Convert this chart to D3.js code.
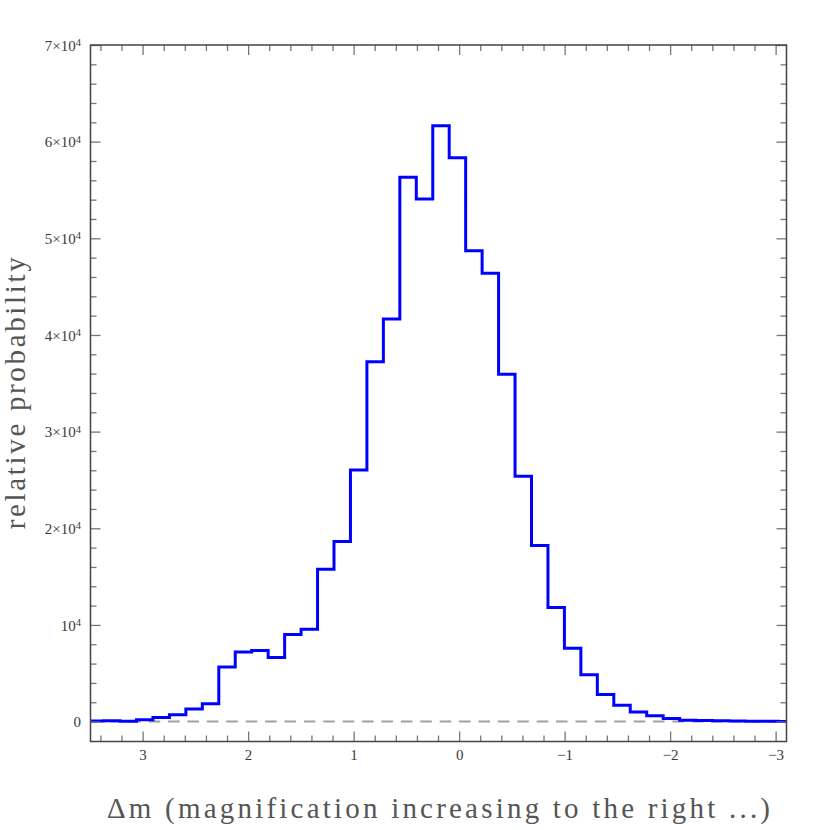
<!DOCTYPE html>
<html>
<head>
<meta charset="utf-8">
<script src="https://cdn.jsdelivr.net/npm/d3@7"></script>
<style>
html,body{margin:0;padding:0;background:#fff;}
svg{display:block;}
</style>
</head>
<body>
<svg id="chart" width="830" height="830"></svg>
<script>
// ---- data ----
const binStart = 3.058;      // upper (left-most) edge of bin index 0, in Δm
const binWidth = 0.156;      // bin width in Δm
const firstBinIndex = -3;
const counts = [60, 80, 30, 190, 420, 700, 1290, 1840, 5640, 7190, 7360, 6630, 9010, 9560,
  15770, 18620, 26040, 37240, 41650, 56310, 54060, 61640, 58330, 48720, 46380, 35940,
  25390, 18210, 11800, 7600, 4840, 2800, 1700, 980, 600, 320, 150, 100, 80, 60, 40, 30, 20];
const xDomain = [3.494, -3.103];
const yDomain = [-2060, 70000];
const xMajorTicks = [3, 2, 1, 0, -1, -2, -3];
const xMinorTicks = [3.4, 3.2, 2.8, 2.6, 2.4, 2.2, 1.8, 1.6, 1.4, 1.2, 0.8, 0.6, 0.4, 0.2,
  -0.2, -0.4, -0.6, -0.8, -1.2, -1.4, -1.6, -1.8, -2.2, -2.4, -2.6, -2.8];
const yMajorTicks = [0, 10000, 20000, 30000, 40000, 50000, 60000, 70000];
const yMinorTicks = [2000, 4000, 6000, 8000, 12000, 14000, 16000, 18000, 22000, 24000, 26000, 28000,
  32000, 34000, 36000, 38000, 42000, 44000, 46000, 48000, 52000, 54000, 56000, 58000,
  62000, 64000, 66000, 68000];
const xTitle = "Δm (magnification increasing to the right ...)";
const yTitle = "relative probability";

// ---- layout ----
const L = 90.5, R = 786.5, T = 45, B = 741.5;
const svg = d3.select("#chart");
const x = d3.scaleLinear().domain(xDomain).range([L, R]);
const y = d3.scaleLinear().domain(yDomain).range([B, T]);
const font = "'Liberation Serif', 'DejaVu Serif', serif";

svg.append("defs").append("clipPath").attr("id", "clip")
  .append("rect").attr("x", L).attr("y", T).attr("width", R - L).attr("height", B - T);

// zero dashed line
svg.append("line")
  .attr("x1", L).attr("x2", R).attr("y1", y(0)).attr("y2", y(0))
  .attr("stroke", "#a0a0a0").attr("stroke-width", 2)
  .attr("stroke-dasharray", "11.5,7.9");

// histogram step
const pts = counts.map((c, i) => [binStart - binWidth * (i + firstBinIndex), c]);
pts.push([binStart - binWidth * (counts.length + firstBinIndex), counts[counts.length - 1]]);
const line = d3.line().x(d => x(d[0])).y(d => y(d[1])).curve(d3.curveStepAfter);
svg.append("path")
  .attr("clip-path", "url(#clip)")
  .attr("d", line(pts))
  .attr("fill", "none").attr("stroke", "#0000ff")
  .attr("stroke-width", 3).attr("stroke-linejoin", "miter");

// ticks
function styleAxis(g) {
  g.select(".domain").remove();
  g.selectAll(".tick line").attr("stroke", "#777").attr("stroke-width", 1.3);
  g.selectAll(".tick text").attr("font-family", font).attr("font-size", 15).attr("fill", "#3a3a3a");
}
const fmtX = d => d < 0 ? "\u2212" + Math.abs(d) : String(d);
svg.append("g").attr("transform", `translate(0,${B})`)
  .call(d3.axisBottom(x).tickValues(xMajorTicks).tickSizeInner(-10).tickSizeOuter(0)
    .tickPadding(8).tickFormat(fmtX))
  .call(styleAxis);
svg.append("g").attr("transform", `translate(0,${B})`)
  .call(d3.axisBottom(x).tickValues(xMinorTicks).tickSizeInner(-6).tickSizeOuter(0).tickFormat(""))
  .call(styleAxis);
svg.append("g").attr("transform", `translate(0,${T})`)
  .call(d3.axisTop(x).tickValues(xMajorTicks).tickSizeInner(-10).tickSizeOuter(0).tickFormat(""))
  .call(styleAxis);
svg.append("g").attr("transform", `translate(0,${T})`)
  .call(d3.axisTop(x).tickValues(xMinorTicks).tickSizeInner(-6).tickSizeOuter(0).tickFormat(""))
  .call(styleAxis);

const yLeft = svg.append("g").attr("transform", `translate(${L},0)`)
  .call(d3.axisLeft(y).tickValues(yMajorTicks).tickSizeInner(-10).tickSizeOuter(0).tickFormat(""))
  .call(styleAxis);
svg.append("g").attr("transform", `translate(${L},0)`)
  .call(d3.axisLeft(y).tickValues(yMinorTicks).tickSizeInner(-6).tickSizeOuter(0).tickFormat(""))
  .call(styleAxis);
svg.append("g").attr("transform", `translate(${R},0)`)
  .call(d3.axisRight(y).tickValues(yMajorTicks).tickSizeInner(-10).tickSizeOuter(0).tickFormat(""))
  .call(styleAxis);
svg.append("g").attr("transform", `translate(${R},0)`)
  .call(d3.axisRight(y).tickValues(yMinorTicks).tickSizeInner(-6).tickSizeOuter(0).tickFormat(""))
  .call(styleAxis);

// y tick labels with superscripts
yLeft.selectAll(".tick").each(function(d) {
  const t = d3.select(this).append("text")
    .attr("x", -9.5).attr("dy", "0.35em")
    .attr("text-anchor", "end")
    .attr("font-family", font).attr("font-size", 15).attr("fill", "#3a3a3a");
  if (d === 0) { t.text("0"); return; }
  const m = Math.round(d / 10000);
  t.append("tspan").text(m === 1 ? "10" : m + "\u00d710");
  t.append("tspan").attr("dy", "-0.45em").attr("font-size", 10.5).text("4");
});

// frame
svg.append("rect").attr("x", L).attr("y", T).attr("width", R - L).attr("height", B - T)
  .attr("fill", "none").attr("stroke", "#444").attr("stroke-width", 1.5);

// titles
svg.append("text")
  .attr("x", (L + R) / 2).attr("y", 818)
  .attr("text-anchor", "middle")
  .attr("font-family", font).attr("font-size", 29).attr("fill", "#555")
  .attr("textLength", 663).attr("lengthAdjust", "spacing")
  .text(xTitle);
svg.append("text")
  .attr("transform", `translate(25,${(T + B) / 2}) rotate(-90)`)
  .attr("text-anchor", "middle")
  .attr("font-family", font).attr("font-size", 29).attr("fill", "#555")
  .attr("textLength", 272).attr("lengthAdjust", "spacing")
  .text(yTitle);
</script>
</body>
</html>
